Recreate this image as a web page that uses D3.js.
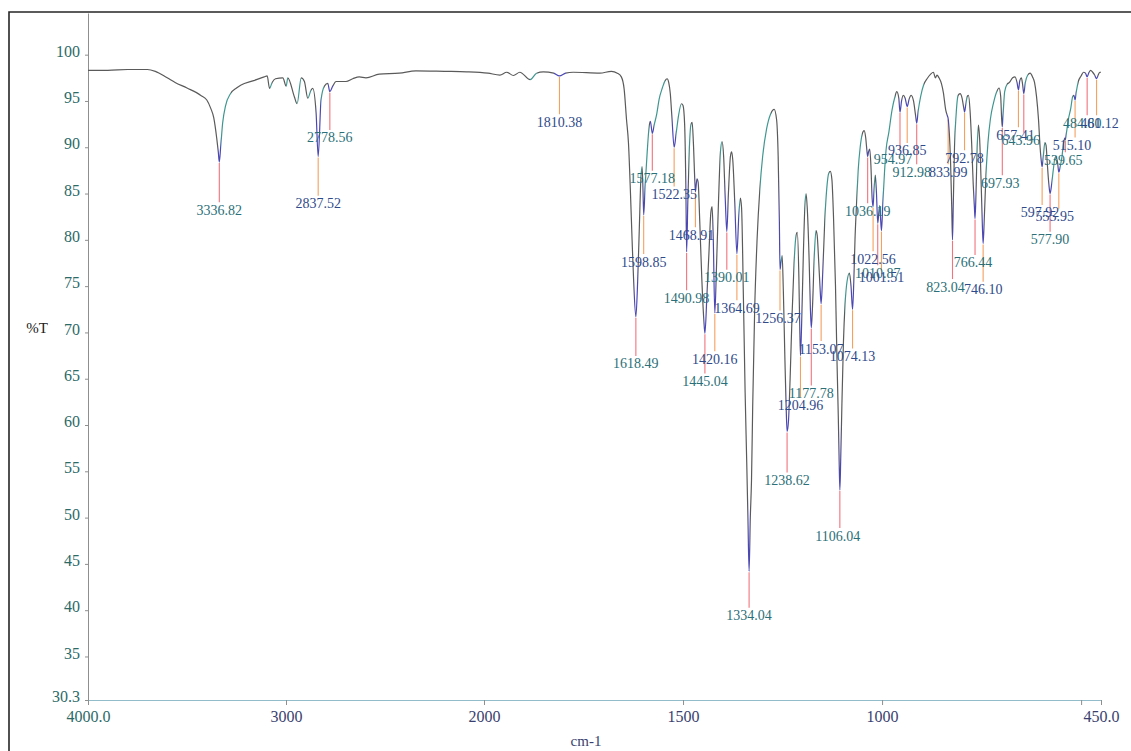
<!DOCTYPE html>
<html>
<head>
<meta charset="utf-8">
<title>IR spectrum</title>
<script src="https://cdn.jsdelivr.net/npm/d3@7"></script>
<style>
  body { margin: 0; background: #fff; }
  svg { display: block; }
  text { font-family: "Liberation Serif", "Times New Roman", serif; }
</style>
</head>
<body>
<svg id="chart" width="1131" height="751"></svg>
<script>
// Transmittance trace: [wavenumber cm-1, %T]
const spectrum = [
  [4000, 98.3], [3900, 98.3], [3800, 98.4], [3700, 98.4], [3660, 98.2], [3600, 97.5],
  [3560, 97.0], [3500, 96.4], [3430, 95.6], [3400, 95.1], [3380, 94.2], [3365, 93.2],
  [3350, 91.0], [3342, 89.5], [3336.82, 88.4], [3330, 90.0], [3320, 92.6], [3305, 94.5],
  [3280, 95.8], [3250, 96.4], [3229, 96.7], [3163, 97.2], [3110, 97.6], [3095, 97.7],
  [3083, 96.35], [3070, 97.0], [3053, 97.4], [3016, 97.5], [2999, 96.6], [2991, 97.5],
  [2957, 95.4], [2944, 94.7], [2923, 97.5], [2907, 97.1], [2890, 95.3], [2873, 96.2],
  [2865, 96.35], [2848, 93.7], [2837.52, 89.0], [2823, 95.1], [2806, 96.6], [2789, 96.9],
  [2778.56, 96.0], [2764, 96.6], [2747, 97.1], [2697, 97.1], [2663, 97.4], [2630, 97.6],
  [2596, 97.5], [2529, 97.9], [2428, 98.0], [2344, 98.25], [2200, 98.2], [2087, 98.15],
  [1990, 98.0], [1960, 97.8], [1943, 98.1], [1926, 97.75], [1910, 98.1], [1884, 97.3],
  [1868, 98.0], [1851, 98.15], [1825, 98.0], [1810.38, 97.7], [1795, 98.0], [1776, 98.1],
  [1709, 98.0], [1680, 98.2], [1665, 98.0], [1655, 97.6], [1648, 96.3], [1642, 93.0],
  [1637, 90.4], [1632, 85.0], [1628, 80.0], [1624, 75.5], [1618.49, 71.7], [1614, 75.5],
  [1610, 81.0], [1606, 86.5], [1603, 87.9], [1601, 86.0], [1598.85, 82.7], [1595, 86.0],
  [1590, 89.5], [1585, 92.3], [1582, 92.8], [1577.18, 91.5], [1572, 92.5], [1566, 93.6],
  [1560, 95.2], [1552, 96.4], [1545, 97.2], [1540, 97.4], [1536, 97.0], [1532, 95.8],
  [1528, 93.3], [1522.35, 90.0], [1517, 91.6], [1511, 93.5], [1504, 94.7], [1500, 94.5],
  [1496, 92.5], [1493, 86.0], [1490.98, 78.7], [1488, 84.0], [1484, 90.0], [1480, 92.5],
  [1477, 92.7], [1474, 90.5], [1470, 86.0], [1468.91, 85.2], [1465, 86.6], [1462, 86.2],
  [1458, 82.0], [1453, 76.0], [1448, 71.5], [1445.04, 69.9], [1440, 74.0], [1435, 78.5],
  [1430, 83.0], [1427, 83.6], [1424, 80.0], [1420.16, 72.1], [1416, 77.0], [1411, 84.0],
  [1406, 89.5], [1402, 90.6], [1398, 89.0], [1394, 84.5], [1390.01, 80.9], [1386, 85.0],
  [1381, 89.0], [1378, 89.5], [1375, 88.6], [1370, 84.0], [1364.69, 78.5], [1360, 82.5],
  [1356, 84.5], [1353, 83.5], [1348, 73.0], [1344, 63.5], [1340, 56.0], [1337, 50.0],
  [1334.04, 44.2], [1331, 50.0], [1328, 54.0], [1325, 62.0], [1320, 72.5], [1314, 80.0],
  [1307, 85.5], [1300, 89.0], [1290, 92.0], [1280, 93.6], [1271, 94.1], [1265, 93.0],
  [1261, 89.0], [1258, 82.0], [1256.37, 76.8], [1254, 77.5], [1251, 78.3], [1248, 74.5],
  [1244, 67.0], [1241, 62.0], [1238.62, 59.3], [1235, 60.5], [1231, 65.0], [1226, 72.0],
  [1221, 77.5], [1216, 80.5], [1213, 80.8], [1209, 76.0], [1207, 71.0], [1204.96, 67.5],
  [1202, 71.0], [1198, 78.0], [1194, 83.5], [1191, 85.0], [1188, 83.5], [1183, 77.5],
  [1180, 72.5], [1177.78, 70.5], [1175, 72.5], [1170, 78.5], [1166, 81.0], [1163, 80.5],
  [1159, 77.5], [1156, 75.0], [1153.07, 73.1], [1149, 76.5], [1144, 82.0], [1139, 85.5],
  [1134, 87.2], [1130, 87.4], [1126, 86.5], [1122, 82.5], [1117, 75.0], [1113, 66.5],
  [1110, 61.0], [1108, 56.5], [1106.04, 53.0], [1104, 56.0], [1101, 62.0], [1097, 69.0],
  [1093, 73.0], [1088, 75.5], [1082, 76.4], [1078, 75.0], [1074.13, 72.5], [1071, 75.5],
  [1068, 80.0], [1064, 84.0], [1060, 87.5], [1055, 90.0], [1050, 91.4], [1045, 91.8],
  [1041, 91.0], [1038, 89.6], [1036.19, 89.0], [1034, 89.5], [1031, 89.8], [1028, 88.0],
  [1025, 84.5], [1022.56, 83.6], [1020, 85.5], [1017, 87.0], [1014, 85.0], [1010.87, 81.8],
  [1008, 83.0], [1006, 83.7], [1004, 82.5], [1001.51, 81.0], [998, 84.0], [994, 87.2],
  [990, 89.7], [983, 91.6], [975, 94.0], [968, 95.4], [963, 96.0], [958, 95.3],
  [954.97, 93.8], [951, 95.0], [947, 95.6], [942, 95.3], [936.85, 94.4], [932, 95.2],
  [927, 95.6], [921, 95.0], [916, 93.5], [912.98, 92.6], [909, 94.0], [903, 95.5],
  [895, 96.8], [887, 97.4], [878, 97.9], [871, 98.1], [866, 97.5], [862, 97.8],
  [857, 97.5], [851, 96.9], [846, 95.9], [840, 94.0], [836, 93.4], [833.99, 93.1],
  [831, 91.5], [828, 88.5], [825, 83.5], [823.04, 80.0], [821, 84.0], [818, 90.0],
  [814, 93.5], [809, 95.6], [804, 95.8], [799, 95.3], [795, 94.3], [792.78, 93.8],
  [790, 94.5], [786, 95.5], [783, 95.6], [779, 94.0], [775, 90.5], [771, 86.0],
  [768, 83.5], [766.44, 82.3], [764, 85.0], [761, 90.0], [758, 92.4], [755, 91.0],
  [751, 86.0], [748, 81.5], [746.10, 79.6], [743, 82.5], [739, 87.0], [734, 90.5],
  [728, 93.0], [720, 94.8], [712, 96.0], [706, 96.4], [702, 95.5], [699.5, 93.0],
  [697.93, 92.2], [696, 93.5], [692, 96.0], [686, 96.8], [680, 97.0], [672, 97.5],
  [666, 97.6], [661, 97.0], [657.41, 96.2], [654, 97.2], [650, 97.5], [647, 96.8],
  [643.96, 95.8], [640, 97.0], [634, 97.8], [628, 98.0], [622, 97.6], [617, 97.0],
  [612, 95.5], [607, 93.0], [603, 90.0], [600, 88.5], [597.92, 87.9], [595, 89.0],
  [591, 90.5], [588, 90.2], [585, 88.3], [581, 86.0], [577.90, 85.0], [574, 86.0],
  [570, 87.5], [566, 88.8], [563, 89.0], [559, 88.3], [555.95, 87.3], [552, 88.0],
  [548, 89.0], [544, 90.5], [541, 91.0], [539.65, 90.8], [537, 91.5], [532, 93.0],
  [526, 94.2], [521, 95.5], [518, 95.6], [515.10, 95.1], [512, 96.0], [507, 97.1],
  [500, 97.7], [494, 98.1], [489, 98.0], [484.80, 97.6], [481, 98.0], [476, 98.3],
  [471, 98.1], [466, 97.8], [461.12, 97.4], [457, 97.8], [453, 98.1], [450, 98.1]
];

// Picked band positions (cm-1)
const peakWavenumbers = [
  3336.82, 2837.52, 2778.56, 1810.38, 1618.49, 1598.85, 1577.18, 1522.35, 1490.98,
  1468.91, 1445.04, 1420.16, 1390.01, 1364.69, 1334.04, 1256.37, 1238.62, 1204.96,
  1177.78, 1153.07, 1106.04, 1074.13, 1036.19, 1022.56, 1010.87, 1001.51, 954.97,
  936.85, 912.98, 833.99, 823.04, 792.78, 766.44, 746.10, 697.93, 657.41, 643.96,
  597.92, 577.90, 555.95, 539.65, 515.10, 484.80, 461.12
];

// %T level at which each band label sits
const peakLabelLevels = [
  83.2, 83.9, 91.0, 92.7, 66.6, 77.6, 86.6, 84.9, 73.7,
  80.5, 64.7, 67.1, 75.9, 72.6, 39.4, 71.5, 54.0, 62.1,
  63.4, 68.2, 48.0, 67.4, 83.1, 77.9, 76.4, 75.9, 88.7,
  89.6, 87.3, 87.3, 74.9, 88.8, 77.5, 74.6, 86.1, 91.3, 90.7,
  82.9, 80.0, 82.5, 88.6, 90.2, 92.6, 92.6
];

const xTickValues = [4000, 3000, 2000, 1500, 1000, 500, 450];
const xTickLabels = ["4000.0", "3000", "2000", "1500", "1000", "", "450.0"];
const yTickValues = [100, 95, 90, 85, 80, 75, 70, 65, 60, 55, 50, 45, 40, 35, 30.3];
const yTickLabels = ["100", "95", "90", "85", "80", "75", "70", "65", "60", "55", "50", "45", "40", "35", "30.3"];

// small sideways shifts (px) for crowded labels
const labelShift = { 1468.91: -4, 954.97: -7, 912.98: -5, 823.04: -7, 766.44: -2,
  697.93: -2, 657.41: -3, 643.96: -3, 597.92: -2, 555.95: -4, 539.65: -2,
  515.10: -3, 484.80: -5, 461.12: 3, 1256.37: -2, 1106.04: -2 };

const svg = d3.select("#chart");

// abscissa is compressed 2x above 2000 cm-1
const x = d3.scaleLinear().domain([4000, 2000, 450]).range([88, 484, 1101]);
const y = d3.scaleLinear().domain([30.3, 104.5]).range([700, 13]);

// outer frame
svg.append("path")
  .attr("d", "M9,751 V12 H1131")
  .attr("fill", "none")
  .attr("stroke", "#262626")
  .attr("stroke-width", 1.6);

// y axis
const yAxis = svg.append("g")
  .attr("transform", `translate(${x(4000)},0)`)
  .call(d3.axisLeft(y).tickValues(yTickValues)
    .tickFormat((d, i) => yTickLabels[i]).tickSize(3).tickSizeOuter(0));
yAxis.select(".domain").attr("stroke", "#8f8f8f");
yAxis.selectAll(".tick line").attr("stroke", "#8f8f8f");
yAxis.selectAll(".tick text")
  .attr("x", -8).attr("dy", "0.1em")
  .style("font-family", "'Liberation Serif', serif")
  .style("font-size", "16px")
  .attr("fill", "#2c6a68");

// x axis
const xAxis = svg.append("g")
  .attr("transform", `translate(0,${y(30.3)})`)
  .call(d3.axisBottom(x).tickValues(xTickValues)
    .tickFormat((d, i) => xTickLabels[i]).tickSize(5).tickSizeOuter(0));
xAxis.select(".domain").attr("stroke", "#93bccb").attr("stroke-width", 1.2);
xAxis.selectAll(".tick line").attr("stroke", "#8f8f8f");
xAxis.selectAll(".tick text")
  .attr("y", 11)
  .style("font-family", "'Liberation Serif', serif")
  .style("font-size", "16px")
  .attr("fill", (d, i) => i === 0 ? "#2c6a68" : "#3a3f6e");

// axis titles
svg.append("text").attr("x", 37).attr("y", 333).attr("text-anchor", "middle")
  .style("font-size", "15px").attr("fill", "#222").text("%T");
svg.append("text").attr("x", 586).attr("y", 746).attr("text-anchor", "middle")
  .style("font-size", "15px").attr("fill", "#3a3f6e").text("cm-1");

// trace colour varies along x: band tips blue-violet, moderate rises teal, rest grey
const peakSet = new Set(peakWavenumbers);
const defs = svg.append("defs");
const grad = defs.append("linearGradient")
  .attr("id", "traceColour")
  .attr("gradientUnits", "userSpaceOnUse")
  .attr("x1", x(4000)).attr("x2", x(450)).attr("y1", 0).attr("y2", 0);
const span = x(450) - x(4000);
for (let i = 0; i < spectrum.length - 1; i++) {
  const a = spectrum[i], b = spectrum[i + 1];
  const dy = y(b[1]) - y(a[1]);
  let c = "#5a5a5a";
  if (peakSet.has(a[0]) || peakSet.has(b[0])) {
    c = Math.abs(dy) > 1.5 ? "#4b47b3" : "#5a5a5a";
  } else if (dy < -6 && dy > -35) {
    c = "#3f9691";
  }
  const o1 = (x(a[0]) - x(4000)) / span, o2 = (x(b[0]) - x(4000)) / span;
  grad.append("stop").attr("offset", o1).attr("stop-color", c);
  grad.append("stop").attr("offset", o2).attr("stop-color", c);
}

const line = d3.line()
  .x(d => x(d[0]))
  .y(d => y(d[1]))
  .curve(d3.curveMonotoneX);

// band marker lines
const tipOf = wn => spectrum.find(d => d[0] === wn)[1];
const markerColours = ["#f2737b", "#f4a15e"];
const labelColours = ["#2b6f78", "#2f4a8a"];

svg.append("g").selectAll("line")
  .data(peakWavenumbers)
  .join("line")
  .attr("x1", d => x(d)).attr("x2", d => x(d))
  .attr("y1", d => y(tipOf(d)) + 1)
  .attr("y2", (d, i) => y(peakLabelLevels[i]) - 8)
  .attr("stroke", (d, i) => markerColours[i % 2])
  .attr("stroke-width", 1.1);

svg.append("path")
  .datum(spectrum)
  .attr("d", line)
  .attr("fill", "none")
  .attr("stroke", "url(#traceColour)")
  .attr("stroke-width", 1.2)
  .attr("stroke-linejoin", "round");

svg.append("g").selectAll("text")
  .data(peakWavenumbers)
  .join("text")
  .attr("x", d => x(d) + (labelShift[d] || 0))
  .attr("y", (d, i) => y(peakLabelLevels[i]) + 4.5)
  .attr("text-anchor", "middle")
  .style("font-size", "14px")
  .attr("fill", (d, i) => labelColours[i % 2])
  .text(d => d.toFixed(2));
</script>
</body>
</html>
